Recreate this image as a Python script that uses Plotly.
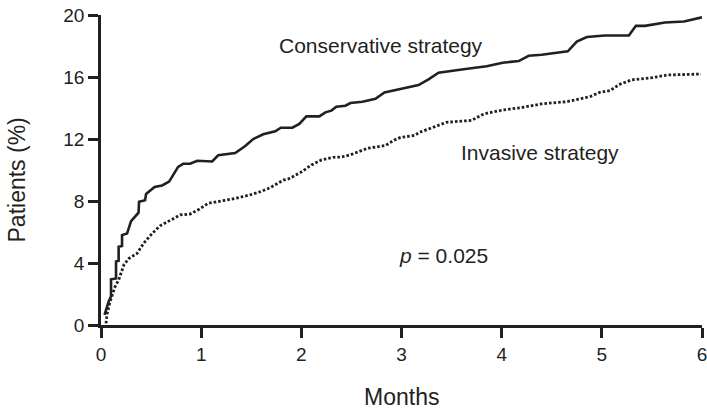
import plotly.graph_objects as go

# Cumulative event rate (%) by months of follow-up
conservative_months = [0.035, 0.055, 0.076, 0.10, 0.10, 0.15, 0.15, 0.176, 0.176, 0.21, 0.21, 0.26,
                       0.30, 0.375, 0.38, 0.44, 0.45, 0.535, 0.61, 0.68, 0.77, 0.82, 0.89, 0.96,
                       1.11, 1.17, 1.34, 1.44, 1.52, 1.62, 1.74, 1.795, 1.91, 1.98, 2.05, 2.18,
                       2.24, 2.30, 2.35, 2.44, 2.49, 2.61, 2.74, 2.83, 2.97, 3.17, 3.27, 3.37,
                       3.62, 3.85, 4.01, 4.17, 4.27, 4.40, 4.66, 4.75, 4.85, 5.03, 5.27, 5.34,
                       5.43, 5.63, 5.82, 6.0]
conservative_pct = [0.65, 1.1, 1.5, 1.85, 2.95, 3.0, 4.1, 4.15, 5.05, 5.1, 5.8, 5.9,
                    6.7, 7.25, 7.95, 8.05, 8.45, 8.9, 9.0, 9.25, 10.2, 10.4, 10.4, 10.6,
                    10.55, 10.95, 11.1, 11.55, 12.0, 12.3, 12.5, 12.73, 12.73, 12.97, 13.46, 13.46,
                    13.72, 13.83, 14.08, 14.15, 14.32, 14.4, 14.6, 15.0, 15.18, 15.48, 15.85, 16.28,
                    16.5, 16.69, 16.92, 17.03, 17.37, 17.44, 17.66, 18.28, 18.58, 18.68, 18.68, 19.3,
                    19.3, 19.52, 19.58, 19.85]

invasive_months = [0.05, 0.06, 0.09, 0.11, 0.14, 0.176, 0.19, 0.23, 0.28, 0.36, 0.425, 0.51,
                   0.59, 0.70, 0.79, 0.89, 0.98, 1.07, 1.19, 1.33, 1.49, 1.59, 1.69, 1.82,
                   1.87, 1.99, 2.10, 2.20, 2.32, 2.40, 2.49, 2.66, 2.84, 2.93, 2.99, 3.13,
                   3.18, 3.35, 3.45, 3.60, 3.70, 3.80, 3.85, 4.01, 4.18, 4.21, 4.40, 4.65,
                   4.88, 4.98, 5.08, 5.18, 5.30, 5.41, 5.51, 5.65, 5.99]
invasive_pct = [0.1, 0.7, 1.5, 1.85, 2.47, 2.9, 3.2, 3.9, 4.3, 4.62, 5.27, 5.9,
                6.4, 6.77, 7.1, 7.16, 7.47, 7.85, 8.0, 8.15, 8.4, 8.6, 8.86, 9.35,
                9.42, 9.83, 10.32, 10.65, 10.82, 10.84, 10.98, 11.4, 11.58, 11.94, 12.1, 12.23,
                12.43, 12.85, 13.08, 13.15, 13.2, 13.55, 13.66, 13.87, 13.98, 14.04, 14.27, 14.41,
                14.73, 15.01, 15.12, 15.53, 15.82, 15.91, 15.96, 16.13, 16.19]

x_ticks = [0, 1, 2, 3, 4, 5, 6]
y_ticks = [0, 4, 8, 12, 16, 20]

series_labels = ["Conservative strategy", "Invasive strategy"]
p_label = "<i>p</i> = 0.025"
x_title = "Months"
y_title = "Patients (%)"

INK = "#231f20"
FONT = "Liberation Sans, Arial, Helvetica, sans-serif"

fig = go.Figure()
fig.add_trace(go.Scatter(
    x=conservative_months, y=conservative_pct, mode="lines",
    line=dict(color=INK, width=2.6), name=series_labels[0], showlegend=False,
))
fig.add_trace(go.Scatter(
    x=invasive_months, y=invasive_pct, mode="lines",
    line=dict(color=INK, width=2.8, dash="2.6px,2.0px"), name=series_labels[1], showlegend=False,
))

axis_common = dict(
    showgrid=False, zeroline=False, showline=True, linecolor=INK, linewidth=2.5,
    ticks="outside", ticklen=10, tickwidth=2.5, tickcolor=INK,
    tickfont=dict(family=FONT, size=19, color=INK),
    ticklabeloverflow="allow", automargin=False,
)
fig.update_xaxes(range=[0, 6], tickvals=x_ticks, ticktext=[str(v) for v in x_ticks], **axis_common)
fig.update_yaxes(range=[0, 20], tickvals=y_ticks, ticktext=[str(v) for v in y_ticks], **axis_common)

ann_font = dict(family=FONT, size=21, color=INK)
fig.add_annotation(x=2.795, y=18.05, text=series_labels[0], showarrow=False, font=ann_font)
fig.add_annotation(x=4.386, y=11.15, text=series_labels[1], showarrow=False, font=ann_font)
fig.add_annotation(x=3.42, y=4.5, text=p_label, showarrow=False, font=ann_font)

title_font = dict(family=FONT, size=23, color=INK)
fig.add_annotation(xref="paper", yref="paper", x=0.5, y=0, yshift=-72, text=x_title,
                   showarrow=False, font=title_font, xanchor="center", yanchor="middle")
fig.add_annotation(xref="paper", yref="paper", x=0, y=0.5, xshift=-84.5, yshift=-10,
                   text=y_title, textangle=-90, showarrow=False, font=title_font,
                   xanchor="center", yanchor="middle")

fig.update_layout(
    width=707, height=409,
    margin=dict(l=101, r=5, t=15, b=84, autoexpand=False),
    paper_bgcolor="white", plot_bgcolor="white",
    font=dict(family=FONT, color=INK),
)

fig.write_html("out.html")
